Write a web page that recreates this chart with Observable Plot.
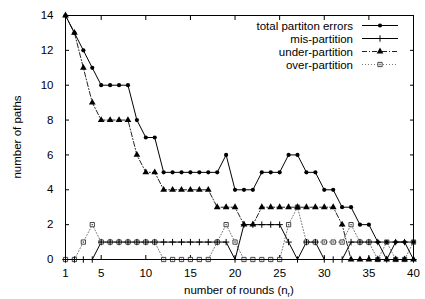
<!DOCTYPE html>
<html><head><meta charset="utf-8">
<script src="https://cdn.jsdelivr.net/npm/d3@7"></script>
<script src="https://cdn.jsdelivr.net/npm/@observablehq/plot@0.6"></script>
<style>body{margin:0;background:#fff}</style>
</head><body><div id="chart"></div>
<script>
const rounds = d3.range(1, 41);
const totalErrors    = [14,13,12,11,10,10,10,10,8,7,7,5,5,5,5,5,5,5,6,4,4,4,5,5,5,6,6,5,5,4,4,3,3,2,2,1,1,1,1,1];
const misPartition   = [0,0,0,0,1,1,1,1,1,1,1,1,1,1,1,1,1,1,1,0,2,2,2,2,2,1,0,1,1,0,0,0,1,1,1,1,0,1,1,0];
const underPartition = [14,13,11,9,8,8,8,8,6,5,5,4,4,4,4,4,4,3,3,3,2,2,3,3,3,3,3,3,3,3,3,2,0,0,0,0,0,0,0,0];
const overPartition  = [0,0,1,2,1,1,1,1,1,1,1,0,0,0,0,0,0,1,2,1,0,0,0,0,0,2,3,1,1,1,1,1,2,1,1,0,1,0,0,1];
const seriesNames = ["total partiton errors", "mis-partition", "under-partition", "over-partition"];
const xTicks = [1, 5, 10, 15, 20, 25, 30, 35, 40];
const yTicks = [0, 2, 4, 6, 8, 10, 12, 14];
const xLabel = "number of rounds (n";
const xLabelSub = "r";
const yLabel = "number of paths";

const styles = [
  {stroke: "#000", dash: null, symbol: "circle", fill: "#000", r: 2.1, sw: 1},
  {stroke: "#000", dash: null, symbol: "plus", fill: "none", r: 2.2, sw: 1},
  {stroke: "#222", dash: "5,2,1,2", symbol: "triangle", fill: "#000", r: 2.5, sw: 1},
  {stroke: "#777", dash: "1,2", symbol: "square", fill: "#fff", r: 2.4, sw: 1}
];
const valuesList = [totalErrors, misPartition, underPartition, overPartition];
const tables = valuesList.map((vals, k) => rounds.map((x, i) => ({x, y: vals[i], s: seriesNames[k]})));

const marks = [];
marks.push(Plot.axisX(xTicks, {anchor: "bottom", tickSize: 0, tickPadding: 9, label: null}));
marks.push(Plot.axisX(xTicks, {anchor: "bottom", tickSize: -4, tickFormat: () => "", label: null}));
marks.push(Plot.axisX(xTicks, {anchor: "top", tickSize: -4, tickFormat: () => "", label: null}));
marks.push(Plot.axisY(yTicks, {anchor: "left", tickSize: 0, tickPadding: 12, label: null}));
marks.push(Plot.axisY(yTicks, {anchor: "left", tickSize: -4, tickFormat: () => "", label: null}));
marks.push(Plot.axisY(yTicks, {anchor: "right", tickSize: -4, tickFormat: () => "", label: null}));
[3, 2, 1, 0].forEach(k => {
  const st = styles[k];
  marks.push(Plot.line(tables[k], {x: "x", y: "y", stroke: st.stroke, strokeWidth: st.sw, strokeDasharray: st.dash}));
});
[3, 2, 1, 0].forEach(k => {
  const st = styles[k];
  if (st.symbol === "square") {
    marks.push(Plot.dot(tables[k], {x: "x", y: "y", symbol: "square", r: st.r, fill: "#fff", stroke: "#333", strokeWidth: 0.9}));
    marks.push(Plot.dot(tables[k], {x: "x", y: "y", symbol: "square", r: 0.8, fill: "#555"}));
  } else if (st.symbol === "plus") {
    marks.push(Plot.dot(tables[k], {x: "x", y: "y", symbol: "plus", r: st.r, stroke: "#000", strokeWidth: 1}));
  } else {
    marks.push(Plot.dot(tables[k], {x: "x", y: "y", symbol: st.symbol, r: st.r, fill: st.fill}));
  }
});
marks.push(Plot.frame({stroke: "#000", strokeWidth: 1}));

const chart = Plot.plot({
  width: 425, height: 299,
  marginLeft: 65, marginRight: 12, marginTop: 15, marginBottom: 40,
  style: {fontFamily: "'Liberation Sans', Arial, sans-serif", fontSize: "11.5px", color: "#000", background: "#fff"},
  x: {domain: [1, 40]},
  y: {domain: [0, 14]},
  marks
});
document.getElementById("chart").appendChild(chart);

const svg = d3.select(chart);
const xl = svg.append("text").attr("x", 239).attr("y", 294).attr("text-anchor", "middle")
  .attr("font-size", 11.5).attr("fill", "#000");
xl.append("tspan").text(xLabel);
xl.append("tspan").attr("font-size", 7.5).attr("dy", 2.5).text(xLabelSub);
xl.append("tspan").attr("dy", -2.5).text(")");
svg.append("text").attr("transform", "translate(21,137) rotate(-90)").attr("text-anchor", "middle")
  .attr("font-size", 11.5).attr("fill", "#000").text(yLabel);

const legY = [25.5, 38.5, 51.5, 64.5];
seriesNames.forEach((name, k) => {
  const st = styles[k];
  const g = svg.append("g");
  g.append("text").attr("x", 353).attr("y", legY[k]).attr("dy", "0.35em").attr("text-anchor", "end")
    .attr("font-size", 11.5).attr("fill", "#000").text(name);
  g.append("line").attr("x1", 362).attr("x2", 398).attr("y1", legY[k]).attr("y2", legY[k])
    .attr("stroke", st.stroke).attr("stroke-width", st.sw).attr("stroke-dasharray", st.dash);
  const symMap = {circle: d3.symbolCircle, plus: d3.symbolPlus, triangle: d3.symbolTriangle, square: d3.symbolSquare};
  const p = d3.symbol().type(symMap[st.symbol]).size(Math.PI * st.r * st.r)();
  const sym = g.append("path").attr("d", p).attr("transform", `translate(380,${legY[k]})`);
  if (st.symbol === "plus") sym.attr("fill", "none").attr("stroke", "#000");
  else if (st.symbol === "square") {
    sym.attr("fill", "#fff").attr("stroke", "#333").attr("stroke-width", 0.9);
    g.append("path").attr("d", d3.symbol().type(d3.symbolSquare).size(Math.PI * 0.64)()).attr("transform", `translate(380,${legY[k]})`).attr("fill", "#555");
  }
  else sym.attr("fill", st.fill);
});
</script>
</body></html>
